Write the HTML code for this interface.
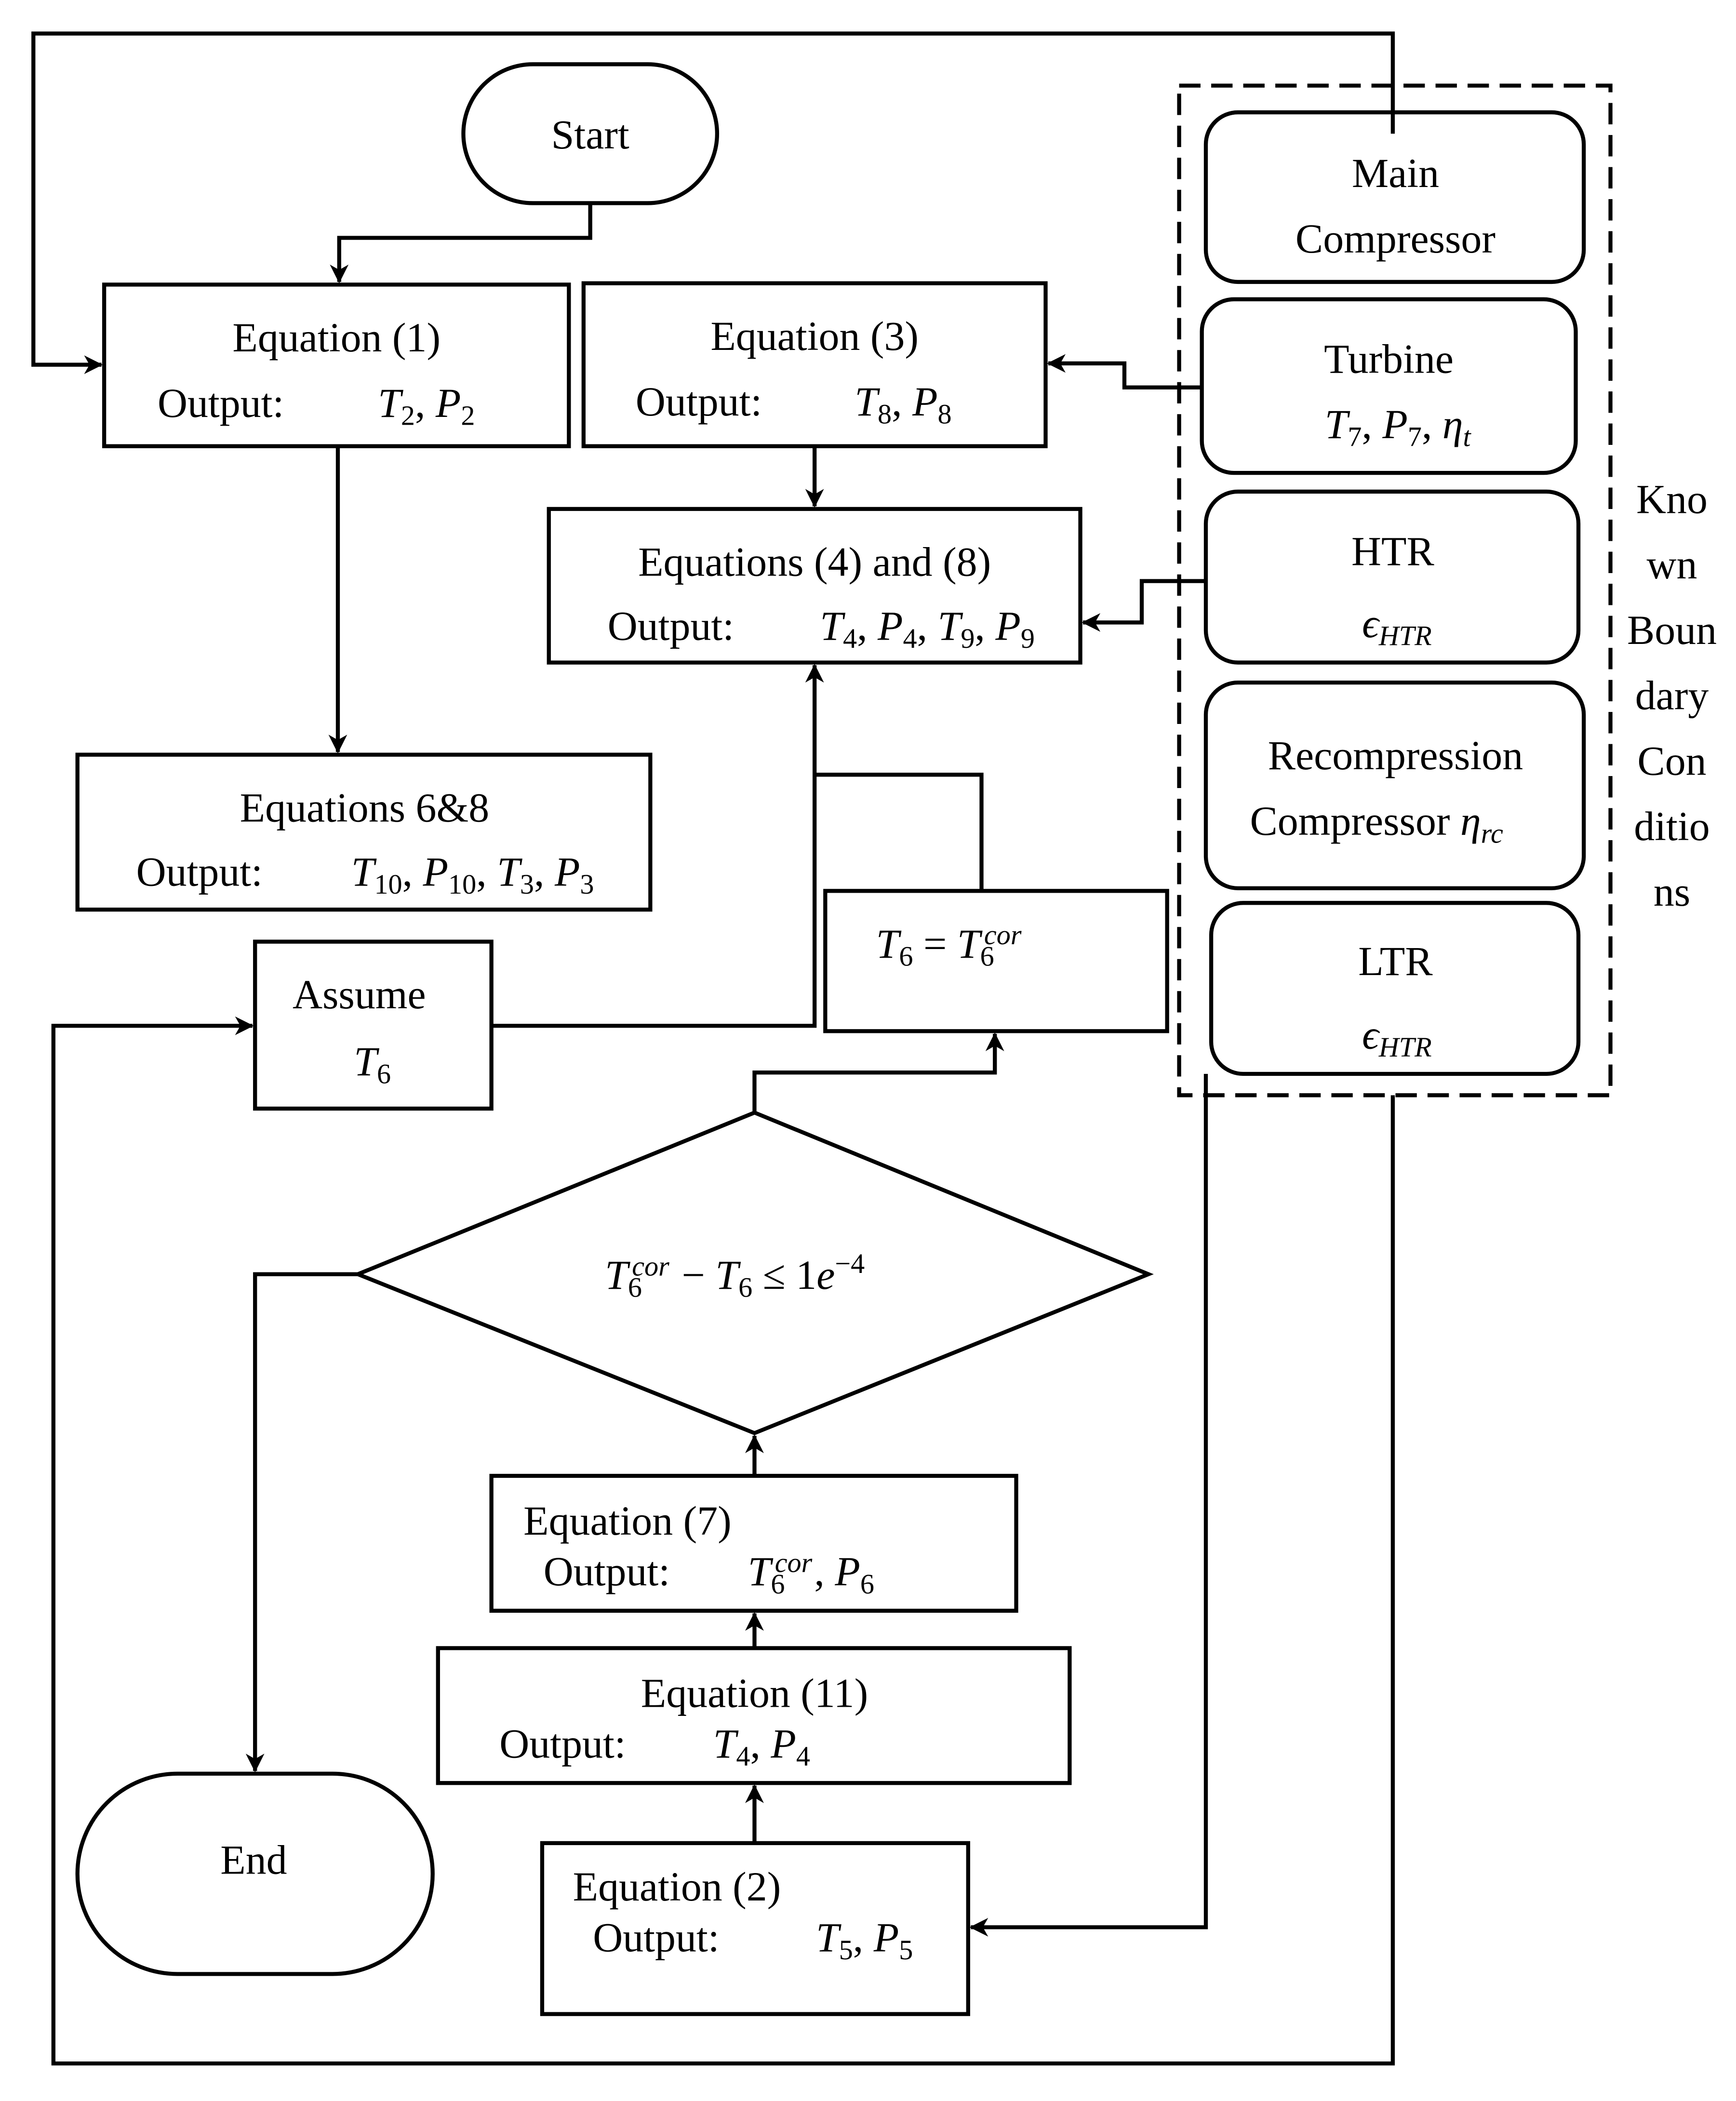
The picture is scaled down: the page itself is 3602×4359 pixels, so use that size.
<!DOCTYPE html>
<html><head><meta charset="utf-8"><style>
html,body{margin:0;padding:0;background:#fff;}
svg{display:block;}
text{font-family:"Liberation Serif",serif;font-size:31px;fill:#000;}
.m{font-style:italic;}
.s{font-size:21px;}
</style></head><body>
<svg width="3602" height="4359" viewBox="0 0 1300 1573" xmlns="http://www.w3.org/2000/svg">
<defs><marker id="a" markerWidth="14" markerHeight="14" refX="13" refY="7" orient="auto" markerUnits="userSpaceOnUse" viewBox="0 0 14 14"><path d="M0,0 L14,7 L0,14 L4,7 z" fill="#000"/></marker></defs>
<g fill="none" stroke="#000" stroke-width="3">
<rect x="347" y="48" width="190" height="104" rx="52"/>
<rect x="78" y="213" width="348" height="121"/>
<rect x="58" y="565" width="429" height="116"/>
<rect x="437" y="212" width="346" height="122"/>
<rect x="411" y="381" width="398" height="115"/>
<rect x="883" y="64" width="323" height="756" stroke-dasharray="16,8"/>
<rect x="903" y="84" width="283" height="127" rx="24"/>
<rect x="900" y="224" width="280" height="130" rx="24"/>
<rect x="903" y="368" width="279" height="128" rx="24"/>
<rect x="903" y="511" width="283" height="154" rx="24"/>
<rect x="907" y="676" width="275" height="128" rx="24"/>
<rect x="618" y="667" width="256" height="105"/>
<rect x="191" y="705" width="177" height="125"/>
<polygon points="565,833 860,954 565,1073 268,954"/>
<rect x="58" y="1328" width="266" height="150" rx="75"/>
<rect x="368" y="1105" width="393" height="101"/>
<rect x="328" y="1234" width="473" height="101"/>
<rect x="406" y="1380" width="319" height="128"/>
<polyline points="1043,100 1043,25 25,25 25,273 76,273" marker-end="url(#a)"/>
<polyline points="442,152 442,178 254,178 254,211" marker-end="url(#a)"/>
<polyline points="253,334 253,563" marker-end="url(#a)"/>
<polyline points="610,334 610,379" marker-end="url(#a)"/>
<polyline points="900,290 842,290 842,272 785,272" marker-end="url(#a)"/>
<polyline points="903,435 855,435 855,466 811,466" marker-end="url(#a)"/>
<polyline points="735,667 735,580 610,580 610,498" marker-end="url(#a)"/>
<polyline points="368,768 610,768 610,580"/>
<polyline points="1043,820 1043,1545 40,1545 40,768 189,768" marker-end="url(#a)"/>
<polyline points="565,833 565,803 745,803 745,774" marker-end="url(#a)"/>
<polyline points="268,954 191,954 191,1326" marker-end="url(#a)"/>
<polyline points="565,1105 565,1075" marker-end="url(#a)"/>
<polyline points="565,1234 565,1208" marker-end="url(#a)"/>
<polyline points="565,1380 565,1337" marker-end="url(#a)"/>
<polyline points="903,804 903,1443 727,1443" marker-end="url(#a)"/>
</g>
<g text-anchor="middle">
<text x="442" y="111">Start</text>
<text x="252" y="263">Equation (1)</text>
<text x="610" y="262">Equation (3)</text>
<text x="610" y="431">Equations (4) and (8)</text>
<text x="273" y="615">Equations 6&amp;8</text>
<text x="1045" y="140">Main</text>
<text x="1045" y="189">Compressor</text>
<text x="1040" y="279">Turbine</text>
<text x="1043" y="423">HTR</text>
<text x="1045" y="576">Recompression</text>
<text x="1045" y="730">LTR</text>
<text x="1252" y="384">Kno</text>
<text x="1252" y="433">wn</text>
<text x="1252" y="482">Boun</text>
<text x="1252" y="531">dary</text>
<text x="1252" y="580">Con</text>
<text x="1252" y="629">ditio</text>
<text x="1252" y="678">ns</text>
<text x="269" y="755">Assume</text>
<text x="190" y="1403">End</text>
<text x="565" y="1278">Equation (11)</text>
</g>
<text x="118" y="312">Output:</text>
<text x="283" y="312"><tspan class="m">T</tspan><tspan class="s" dy="6">2</tspan><tspan dy="-6">, </tspan><tspan class="m">P</tspan><tspan class="s" dy="6">2</tspan></text>
<text x="476" y="311">Output:</text>
<text x="640" y="311"><tspan class="m">T</tspan><tspan class="s" dy="6">8</tspan><tspan dy="-6">, </tspan><tspan class="m">P</tspan><tspan class="s" dy="6">8</tspan></text>
<text x="455" y="479">Output:</text>
<text x="614" y="479"><tspan class="m">T</tspan><tspan class="s" dy="6">4</tspan><tspan dy="-6">, </tspan><tspan class="m">P</tspan><tspan class="s" dy="6">4</tspan><tspan dy="-6">, </tspan><tspan class="m">T</tspan><tspan class="s" dy="6">9</tspan><tspan dy="-6">, </tspan><tspan class="m">P</tspan><tspan class="s" dy="6">9</tspan></text>
<text x="102" y="663">Output:</text>
<text x="263" y="663"><tspan class="m">T</tspan><tspan class="s" dy="6">10</tspan><tspan dy="-6">, </tspan><tspan class="m">P</tspan><tspan class="s" dy="6">10</tspan><tspan dy="-6">, </tspan><tspan class="m">T</tspan><tspan class="s" dy="6">3</tspan><tspan dy="-6">, </tspan><tspan class="m">P</tspan><tspan class="s" dy="6">3</tspan></text>
<text x="992" y="328"><tspan class="m">T</tspan><tspan class="s" dy="6">7</tspan><tspan dy="-6">, </tspan><tspan class="m">P</tspan><tspan class="s" dy="6">7</tspan><tspan dy="-6">, </tspan><tspan class="m">η</tspan><tspan class="s m" dy="6">t</tspan></text>
<text x="1020" y="477"><tspan class="m">ϵ</tspan><tspan class="s m" dy="6">HTR</tspan></text>
<text x="936" y="625">Compressor  <tspan class="m">η</tspan><tspan class="s m" dy="6">rc</tspan></text>
<text x="1020" y="785"><tspan class="m">ϵ</tspan><tspan class="s m" dy="6">HTR</tspan></text>
<text x="656" y="717"><tspan class="m">T</tspan><tspan class="s" dy="6">6</tspan><tspan dy="-6"> = </tspan><tspan class="m">T</tspan><tspan class="s m" dx="3" dy="-10">cor</tspan><tspan class="s" dx="-31" dy="16">6</tspan></text>
<text x="265" y="805"><tspan class="m">T</tspan><tspan class="s" dy="6">6</tspan></text>
<text x="453" y="965"><tspan class="m">T</tspan><tspan class="s m" dx="3" dy="-10">cor</tspan><tspan class="s" dx="-31" dy="16">6</tspan><tspan dx="22" dy="-6"> − </tspan><tspan class="m">T</tspan><tspan class="s" dy="6">6</tspan><tspan dy="-6"> ≤ 1</tspan><tspan class="m">e</tspan><tspan class="s" dy="-12">−4</tspan></text>
<text x="392" y="1149">Equation (7)</text>
<text x="407" y="1187">Output:</text>
<text x="560" y="1187"><tspan class="m">T</tspan><tspan class="s m" dx="3" dy="-10">cor</tspan><tspan class="s" dx="-31" dy="16">6</tspan><tspan dx="22" dy="-6">, </tspan><tspan class="m">P</tspan><tspan class="s" dy="6">6</tspan></text>
<text x="374" y="1316">Output:</text>
<text x="534" y="1316"><tspan class="m">T</tspan><tspan class="s" dy="6">4</tspan><tspan dy="-6">, </tspan><tspan class="m">P</tspan><tspan class="s" dy="6">4</tspan></text>
<text x="429" y="1423">Equation (2)</text>
<text x="444" y="1461">Output:</text>
<text x="611" y="1461"><tspan class="m">T</tspan><tspan class="s" dy="6">5</tspan><tspan dy="-6">, </tspan><tspan class="m">P</tspan><tspan class="s" dy="6">5</tspan></text>
</svg>
</body></html>
